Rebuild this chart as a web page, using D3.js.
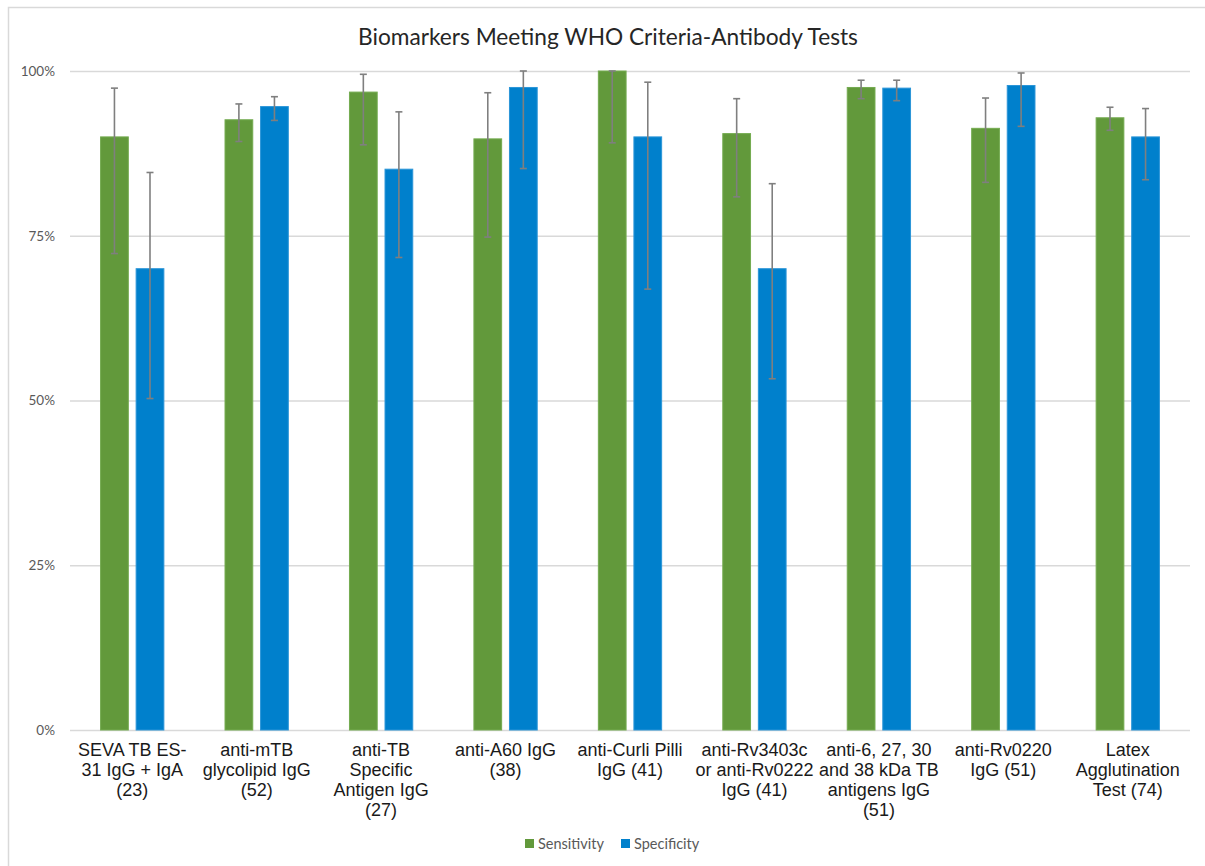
<!DOCTYPE html>
<html>
<head>
<meta charset="utf-8">
<script src="https://cdn.jsdelivr.net/npm/d3@7"></script>
<style>
  html, body { margin: 0; padding: 0; background: #fff; }
  svg { display: block; }
</style>
</head>
<body>
<svg id="chart" width="1205" height="866"></svg>
<script>
// Test names, wrapped as they appear under the axis
const categories = [
  ["SEVA TB ES-", "31 IgG + IgA", "(23)"],
  ["anti-mTB", "glycolipid IgG", "(52)"],
  ["anti-TB", "Specific", "Antigen IgG", "(27)"],
  ["anti-A60 IgG", "(38)"],
  ["anti-Curli Pilli", "IgG (41)"],
  ["anti-Rv3403c", "or anti-Rv0222", "IgG (41)"],
  ["anti-6, 27, 30", "and 38 kDa TB", "antigens IgG", "(51)"],
  ["anti-Rv0220", "IgG (51)"],
  ["Latex", "Agglutination", "Test (74)"]
];

const seriesNames = ["Sensitivity", "Specificity"];

// Percent values with lower / upper confidence bounds
const sensitivity   = [90.0, 92.6, 96.8, 89.7, 100.0, 90.5, 97.5, 91.3, 92.9];
const sensitivityLo = [72.3, 89.3, 88.8, 74.8, 89.1, 80.9, 95.8, 83.1, 91.0];
const sensitivityHi = [97.4, 95.0, 99.5, 96.7, 100.0, 95.8, 98.6, 95.9, 94.5];

const specificity   = [70.0, 94.6, 85.1, 97.5, 90.0, 70.0, 97.4, 97.8, 90.0];
const specificityLo = [50.3, 92.5, 71.7, 85.2, 66.9, 53.3, 95.5, 91.6, 83.5];
const specificityHi = [84.6, 96.1, 93.8, 100.0, 98.3, 82.9, 98.6, 99.7, 94.3];

const yTicks = [0, 25, 50, 75, 100];

const colors = { Sensitivity: "#62993b", Specificity: "#0080cc" };

const svg = d3.select("#chart");

// chart frame
svg.append("rect")
  .attr("x", 8.5).attr("y", 7.5)
  .attr("width", 1220).attr("height", 880)
  .attr("fill", "#fff").attr("stroke", "#d9d9d9").attr("stroke-width", 1.5);

const plot = { left: 70, right: 1190, top: 71, bottom: 730 };

const y = d3.scaleLinear().domain([0, 100]).range([plot.bottom, plot.top]);
const x0 = d3.scaleBand().domain(d3.range(categories.length)).range([plot.left, plot.right]).padding(0);
const x1 = d3.scaleBand().domain(seriesNames).range([0, x0.bandwidth()])
  .paddingInner(0.22).paddingOuter(0.86);

// title
svg.append("text")
  .attr("x", 608).attr("y", 45)
  .attr("text-anchor", "middle")
  .attr("font-family", "Lato, 'Open Sans', sans-serif")
  .attr("font-size", 22.7)
  .attr("fill", "#262626")
  .text("Biomarkers Meeting WHO Criteria-Antibody Tests");

// gridlines + y labels
const yAxis = d3.axisLeft(y).tickValues(yTicks).tickSize(-(plot.right - plot.left))
  .tickFormat(d => d + "%").tickPadding(15);
const gy = svg.append("g").attr("transform", `translate(${plot.left},0)`).call(yAxis);
gy.select(".domain").remove();
gy.selectAll(".tick line").attr("stroke", "#d9d9d9").attr("stroke-width", 1.5);
gy.selectAll(".tick text")
  .attr("font-family", "Lato, 'Open Sans', sans-serif")
  .attr("font-size", 13.5)
  .attr("fill", "#595959");

// bars
const rows = categories.map((c, i) => ({
  i,
  values: [
    { key: "Sensitivity", v: sensitivity[i], lo: sensitivityLo[i], hi: sensitivityHi[i] },
    { key: "Specificity", v: specificity[i], lo: specificityLo[i], hi: specificityHi[i] }
  ]
}));

const groups = svg.append("g").selectAll("g").data(rows).join("g")
  .attr("transform", d => `translate(${x0(d.i)},0)`);

groups.selectAll("rect").data(d => d.values).join("rect")
  .attr("x", d => x1(d.key))
  .attr("y", d => y(d.v))
  .attr("width", x1.bandwidth())
  .attr("height", d => y(0) - y(d.v))
  .attr("fill", d => colors[d.key])
  .attr("stroke", d => d.key === "Sensitivity" ? "#74ab50" : "#2b95d8")
  .attr("stroke-width", 1);

// error bars
const err = groups.selectAll("g.err").data(d => d.values).join("g").attr("class", "err")
  .attr("stroke", "#7f7f7f").attr("stroke-width", 1.6);
err.append("line")
  .attr("x1", d => x1(d.key) + x1.bandwidth() / 2)
  .attr("x2", d => x1(d.key) + x1.bandwidth() / 2)
  .attr("y1", d => y(d.lo)).attr("y2", d => y(d.hi));
["lo", "hi"].forEach(k => {
  err.append("line")
    .attr("x1", d => x1(d.key) + x1.bandwidth() / 2 - 3.5)
    .attr("x2", d => x1(d.key) + x1.bandwidth() / 2 + 3.5)
    .attr("y1", d => y(d[k])).attr("y2", d => y(d[k]));
});

// category labels
const xl = svg.append("g").selectAll("text").data(categories).join("text")
  .attr("x", (d, i) => x0(i) + x0.bandwidth() / 2)
  .attr("y", 756)
  .attr("text-anchor", "middle")
  .attr("font-family", "'Liberation Sans', Arial, sans-serif")
  .attr("font-size", 18)
  .attr("fill", "#1a1a1a");
xl.selectAll("tspan").data(d => d).join("tspan")
  .attr("x", function () { return d3.select(this.parentNode).attr("x"); })
  .attr("dy", (d, i) => i === 0 ? 0 : 20)
  .text(d => d);

// legend
const legend = svg.append("g");
const legendItems = [
  { key: "Sensitivity", x: 525 },
  { key: "Specificity", x: 621 }
];
legend.selectAll("rect").data(legendItems).join("rect")
  .attr("x", d => d.x).attr("y", 839).attr("width", 9).attr("height", 9)
  .attr("fill", d => colors[d.key]);
legend.selectAll("text").data(legendItems).join("text")
  .attr("x", d => d.x + 13).attr("y", 848.5)
  .attr("font-family", "Lato, 'Open Sans', sans-serif")
  .attr("font-size", 14.5)
  .attr("fill", "#595959")
  .text(d => d.key);
</script>
</body>
</html>
